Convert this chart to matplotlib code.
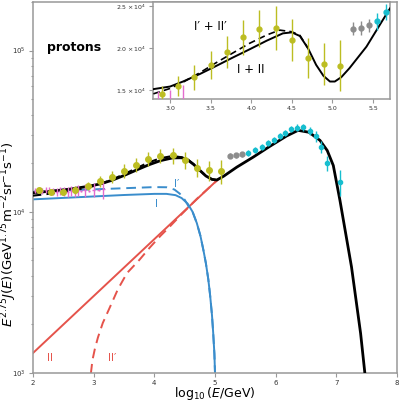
import numpy as np
import matplotlib
matplotlib.use("Agg")
import matplotlib.pyplot as plt
from matplotlib.ticker import FixedLocator, NullFormatter, LogLocator

# ---- model curves, main panel (x = log10 E, values = log10 of E^2.75 J)
fit_x = [2.0, 2.3, 2.6, 2.9, 3.1, 3.3, 3.5, 3.7, 3.9, 4.1, 4.3, 4.45, 4.55, 4.65,
         4.75, 4.85, 4.95, 5.03, 5.14, 5.36, 5.63, 5.90, 6.18, 6.37, 6.55, 6.73,
         6.85, 6.95, 7.06, 7.25, 7.40, 7.47, 7.52]
fit_log = [4.118, 4.128, 4.140, 4.157, 4.172, 4.195, 4.225, 4.258, 4.290, 4.317,
           4.334, 4.335, 4.322, 4.293, 4.257, 4.222, 4.201, 4.197, 4.220, 4.277,
           4.339, 4.405, 4.470, 4.505, 4.493, 4.443, 4.380, 4.287, 4.070, 3.658,
           3.246, 3.000, 2.800]
fitp_x = [2.0, 2.3, 2.6, 2.9, 3.1, 3.3, 3.5, 3.7, 3.9, 4.1, 4.3, 4.45, 4.55, 4.65,
          4.75, 4.85, 4.95, 5.03]
fitp_log = [4.100, 4.113, 4.128, 4.150, 4.169, 4.199, 4.233, 4.269, 4.305, 4.332,
            4.346, 4.338, 4.324, 4.294, 4.257, 4.222, 4.201, 4.197]

comp1_x = [2.0, 2.5, 3.0, 3.5, 4.0, 4.2, 4.35, 4.45, 4.55, 4.63, 4.70, 4.76, 4.81,
           4.85, 4.89, 4.92, 4.95, 4.97, 4.99, 5.0, 5.01]
comp1_log = [4.077, 4.086, 4.095, 4.104, 4.111, 4.111, 4.103, 4.085, 4.050, 4.000,
             3.930, 3.850, 3.760, 3.680, 3.580, 3.480, 3.360, 3.250, 3.120, 3.000, 2.900]
comp1p_x = [2.0, 2.5, 3.0, 3.5, 4.0, 4.2, 4.33, 4.42, 4.5, 4.57, 4.63, 4.70, 4.76,
            4.81, 4.85, 4.89, 4.92, 4.95, 4.97, 4.99, 5.0, 5.01]
comp1p_log = [4.125, 4.132, 4.139, 4.146, 4.153, 4.152, 4.138, 4.112, 4.075, 4.030,
              4.000, 3.930, 3.850, 3.760, 3.680, 3.580, 3.480, 3.360, 3.250, 3.120,
              3.000, 2.900]

comp2_x = [2.0, 5.05]
comp2_log = [3.124, 4.201]
comp2p_x = [2.93, 2.955, 2.98, 3.02, 3.07, 3.15, 3.27, 3.4, 3.55, 3.75, 3.93, 4.1,
            4.26, 4.45, 4.7, 5.05]
comp2p_log = [2.900, 3.000, 3.080, 3.150, 3.220, 3.310, 3.410, 3.520, 3.620, 3.700,
              3.780, 3.850, 3.910, 3.985, 4.080, 4.200]

# ---- measurements (x = log10 E, y = E^2.75 J)
yel_x = [2.1, 2.3, 2.5, 2.7, 2.9, 3.1, 3.3, 3.5, 3.7, 3.9, 4.1, 4.3, 4.5, 4.7, 4.9, 5.1]
yel_y = [1.36e4, 1.33e4, 1.33e4, 1.36e4, 1.45e4, 1.55e4, 1.65e4, 1.80e4, 1.95e4,
         2.13e4, 2.23e4, 2.24e4, 2.10e4, 1.88e4, 1.81e4, 1.79e4]
yel_err = [0.04e4, 0.05e4, 0.06e4, 0.08e4, 0.09e4, 0.12e4, 0.15e4, 0.17e4, 0.19e4,
           0.21e4, 0.22e4, 0.26e4, 0.25e4, 0.24e4, 0.25e4, 0.30e4]

mag_x = [2.03, 2.09, 2.15, 2.21, 2.27, 2.33, 2.39, 2.45, 2.51, 2.57, 2.63, 2.69,
         2.75, 2.79, 2.85, 2.92, 3.0, 3.08, 3.16]
mag_y = [1.35e4, 1.36e4, 1.34e4, 1.36e4, 1.35e4, 1.34e4, 1.33e4, 1.35e4, 1.34e4,
         1.33e4, 1.35e4, 1.34e4, 1.36e4, 1.35e4, 1.36e4, 1.35e4, 1.37e4, 1.36e4, 1.38e4]
mag_err = [0.05e4, 0.05e4, 0.06e4, 0.06e4, 0.07e4, 0.07e4, 0.07e4, 0.08e4, 0.08e4,
           0.09e4, 0.09e4, 0.10e4, 0.10e4, 0.02e4, 0.12e4, 0.02e4, 0.13e4, 0.02e4, 0.18e4]

gray_x = [5.25, 5.35, 5.45]
gray_y = [2.23e4, 2.24e4, 2.27e4]
gray_err = [0.08e4, 0.08e4, 0.08e4]

cyan_x = [5.55, 5.66, 5.77, 5.88, 5.97, 6.07, 6.16, 6.26, 6.35, 6.45, 6.56, 6.67,
          6.74, 6.85, 7.06]
cyan_y = [2.32e4, 2.43e4, 2.52e4, 2.67e4, 2.80e4, 2.94e4, 3.08e4, 3.27e4, 3.32e4,
          3.35e4, 3.16e4, 2.94e4, 2.52e4, 2.00e4, 1.53e4]
cyan_err = [0.10e4, 0.10e4, 0.11e4, 0.12e4, 0.12e4, 0.13e4, 0.14e4, 0.15e4, 0.16e4,
            0.17e4, 0.18e4, 0.25e4, 0.22e4, 0.22e4, 0.28e4]

# ---- inset curves (linear y)
ins_x = [2.795, 3.0, 3.16, 3.37, 3.57, 3.78, 3.98, 4.19, 4.39, 4.50, 4.60, 4.70,
         4.80, 4.89, 4.97, 5.03, 5.11, 5.21, 5.42, 5.62, 5.71]
ins_fit = [1.508e4, 1.539e4, 1.599e4, 1.690e4, 1.786e4, 1.889e4, 1.984e4, 2.087e4,
           2.175e4, 2.187e4, 2.143e4, 1.996e4, 1.798e4, 1.667e4, 1.599e4, 1.599e4,
           1.651e4, 1.758e4, 2.016e4, 2.333e4, 2.473e4]
insp_x = [2.795, 3.0, 3.16, 3.37, 3.57, 3.78, 3.98, 4.19, 4.35, 4.50, 4.60, 4.70]
insp_fit = [1.452e4, 1.516e4, 1.591e4, 1.706e4, 1.825e4, 1.944e4, 2.056e4, 2.155e4,
            2.214e4, 2.194e4, 2.151e4, 1.996e4]

C_BLUE = '#3a8dcc'
C_RED = '#e5534b'
C_YEL = '#bcbd22'
C_CYAN = '#17becf'
C_GRAY = '#8c8c8c'
C_MAG = '#e36ccf'
SPINE = '#999999'


def style_axes(a, fs):
    for s in a.spines.values():
        s.set_color(SPINE)
        s.set_linewidth(1.1)
    a.tick_params(which='both', colors=SPINE, labelcolor='#333333',
                  labelsize=fs, width=0.8, pad=2)
    a.tick_params(which='major', length=3)
    a.tick_params(which='minor', length=1.8)


fig = plt.figure(figsize=(4, 4), dpi=100)
ax = fig.add_axes([0.0825, 0.0675, 0.91, 0.9275])
ax.set_yscale('log')

ax.plot(comp2_x, 10 ** np.array(comp2_log), color=C_RED, lw=1.4)
ax.plot(comp2p_x, 10 ** np.array(comp2p_log), color=C_RED, lw=1.4, ls=(0, (5, 3)))
ax.plot(comp1_x, 10 ** np.array(comp1_log), color=C_BLUE, lw=1.4)
ax.plot(comp1p_x, 10 ** np.array(comp1p_log), color=C_BLUE, lw=1.4, ls=(0, (5, 3)))
ax.plot(fit_x, 10 ** np.array(fit_log), color='black', lw=2.0, zorder=4)
ax.plot(fitp_x, 10 ** np.array(fitp_log), color='black', lw=1.5, ls=(0, (4, 2.5)), zorder=4)

ax.errorbar(mag_x, mag_y, yerr=mag_err, xerr=0.02, fmt='none', ecolor=C_MAG,
            elinewidth=1.0, zorder=5)
ax.errorbar(yel_x, yel_y, yerr=yel_err, fmt='o', color=C_YEL, ms=4, elinewidth=1.0, zorder=6)
ax.errorbar(gray_x, gray_y, yerr=gray_err, fmt='o', color=C_GRAY, ms=3.5, elinewidth=1.0, zorder=6)
ax.errorbar(cyan_x, cyan_y, yerr=cyan_err, fmt='o', color=C_CYAN, ms=3, elinewidth=1.0, zorder=6)

ax.set_xlim(2, 8)
ax.set_ylim(1e3, 2e5)
ax.set_xticks([2, 3, 4, 5, 6, 7, 8])
ax.yaxis.set_minor_locator(LogLocator(base=10, subs=np.arange(2, 10)))
ax.yaxis.set_minor_formatter(NullFormatter())
style_axes(ax, 5)

ax.set_xlabel(r'$\log_{10}(E/\mathrm{GeV})$', fontsize=9)
ax.set_ylabel(r'$E^{2.75}J(E)(\mathrm{GeV}^{1.75}\mathrm{m}^{-2}\mathrm{sr}^{-1}\mathrm{s}^{-1})$',
              fontsize=9.5)
ax.xaxis.set_label_coords(0.5, -0.031)
ax.yaxis.set_label_coords(-0.038, 0.375)

ax.text(2.23, 10 ** 5.02, 'protons', fontsize=9, fontweight='bold', va='center')
ax.text(4.03, 10 ** 4.05, 'I', color=C_BLUE, fontsize=7.5, ha='center', va='center')
ax.text(4.37, 10 ** 4.175, 'I\u2032', color=C_BLUE, fontsize=7.5, ha='center', va='center')
ax.text(2.28, 10 ** 3.093, 'II', color=C_RED, fontsize=7.5, ha='center', va='center')
ax.text(3.3, 10 ** 3.093, 'II\u2032', color=C_RED, fontsize=7.5, ha='center', va='center')

# ---- inset
axi = fig.add_axes([0.3825, 0.7525, 0.5925, 0.2425])
axi.plot(ins_x, ins_fit, color='black', lw=1.4, zorder=4)
axi.plot(insp_x, insp_fit, color='black', lw=1.2, ls=(0, (4, 2.5)), zorder=4)
axi.errorbar(mag_x, mag_y, yerr=mag_err, fmt='none', ecolor=C_MAG, elinewidth=1.0, zorder=5)
axi.errorbar(yel_x, yel_y, yerr=yel_err, fmt='o', color=C_YEL, ms=3.5, elinewidth=1.0, zorder=6)
axi.errorbar(gray_x, gray_y, yerr=gray_err, fmt='o', color=C_GRAY, ms=3.5, elinewidth=1.0, zorder=6)
axi.errorbar(cyan_x, cyan_y, yerr=cyan_err, fmt='o', color=C_CYAN, ms=3.5, elinewidth=1.0, zorder=6)
axi.set_xlim(2.79, 5.71)
axi.set_ylim(1.39e4, 2.55e4)
axi.set_xticks([3.0, 3.5, 4.0, 4.5, 5.0, 5.5])
axi.yaxis.set_major_locator(FixedLocator([1.5e4, 2.0e4, 2.5e4]))
axi.set_yticklabels([r'$1.5\times10^{4}$', r'$2.0\times10^{4}$', r'$2.5\times10^{4}$'])
style_axes(axi, 4.5)
axi.text(3.5, 2.26e4, 'I\u2032 + II\u2032', fontsize=8.5, ha='center', va='center')
axi.text(3.99, 1.74e4, 'I + II', fontsize=8.5, ha='center', va='center')

fig.savefig('out.png', dpi=100)
